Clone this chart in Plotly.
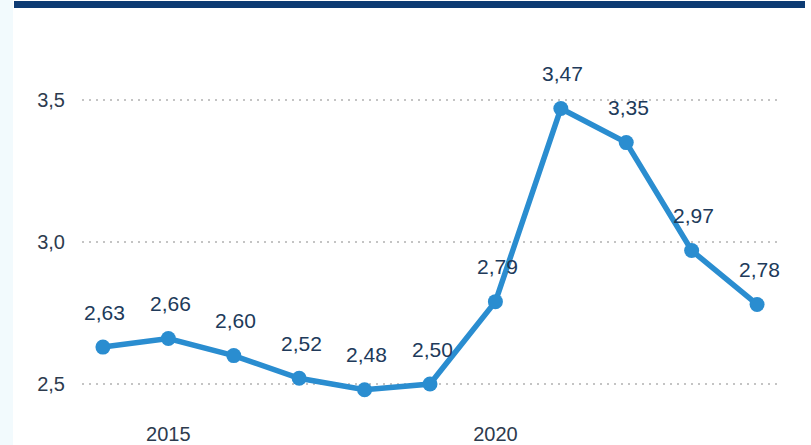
import plotly.graph_objects as go

years = [2014, 2015, 2016, 2017, 2018, 2019, 2020, 2021, 2022, 2023, 2024]
values = [2.63, 2.66, 2.60, 2.52, 2.48, 2.50, 2.79, 3.47, 3.35, 2.97, 2.78]
y_ticks = [2.5, 3.0, 3.5]
y_tick_text = ["2,5", "3,0", "3,5"]
x_ticks = [2015, 2020]

W, H = 811, 445
L, R, T, B = 82, 33, 30, 25
plot_w = W - L - R
plot_h = H - T - B


def px_x(p):
    return (p - L) / plot_w


def px_y(p):
    return (H - B - p) / plot_h


line_color = "#2a8dd0"
label_color = "#203a5a"
tick_color = "#2d3b4e"
font_family = "Arial, Liberation Sans, sans-serif"

fig = go.Figure()
fig.add_trace(go.Scatter(
    x=years, y=values, mode="lines+markers",
    line=dict(color=line_color, width=5.5),
    marker=dict(color=line_color, size=15),
    hoverinfo="skip", showlegend=False,
))

for x, v in zip(years, values):
    fig.add_annotation(
        x=x, y=v, text=f"{v:.2f}".replace(".", ","),
        showarrow=False, yshift=35, xshift=2,
        font=dict(size=21, color=label_color, family=font_family),
    )

# pale side band and dark header rule
fig.add_shape(type="rect", xref="paper", yref="paper",
              x0=px_x(0), x1=px_x(13), y0=px_y(445), y1=px_y(0),
              fillcolor="#f2fafd", line_width=0, layer="below")
fig.add_shape(type="rect", xref="paper", yref="paper",
              x0=px_x(14), x1=px_x(805), y0=px_y(8), y1=px_y(1),
              fillcolor="#0d3b73", line_width=0)

fig.update_layout(
    width=W, height=H,
    margin=dict(l=L, r=R, t=T, b=B, autoexpand=False),
    paper_bgcolor="white", plot_bgcolor="white",
    font=dict(family=font_family, size=20, color=tick_color),
    xaxis=dict(range=[2013.68, 2024.32], tickvals=x_ticks, ticktext=[str(t) for t in x_ticks],
               showgrid=False, zeroline=False, showline=False, ticks="", automargin=False,
               tickfont=dict(size=20, color=tick_color), fixedrange=True),
    yaxis=dict(range=[2.5 - (H - B - 384) / 284, 3.5 + (100 - T) / 284],
               tickvals=y_ticks, ticktext=y_tick_text, automargin=False,
               showgrid=True, gridcolor="#c4c4c4", gridwidth=2, griddash="2px,5px",
               zeroline=False, showline=False, ticks="", ticklabelstandoff=16,
               tickfont=dict(size=20, color=tick_color), fixedrange=True),
)

fig.write_html("out.html")
